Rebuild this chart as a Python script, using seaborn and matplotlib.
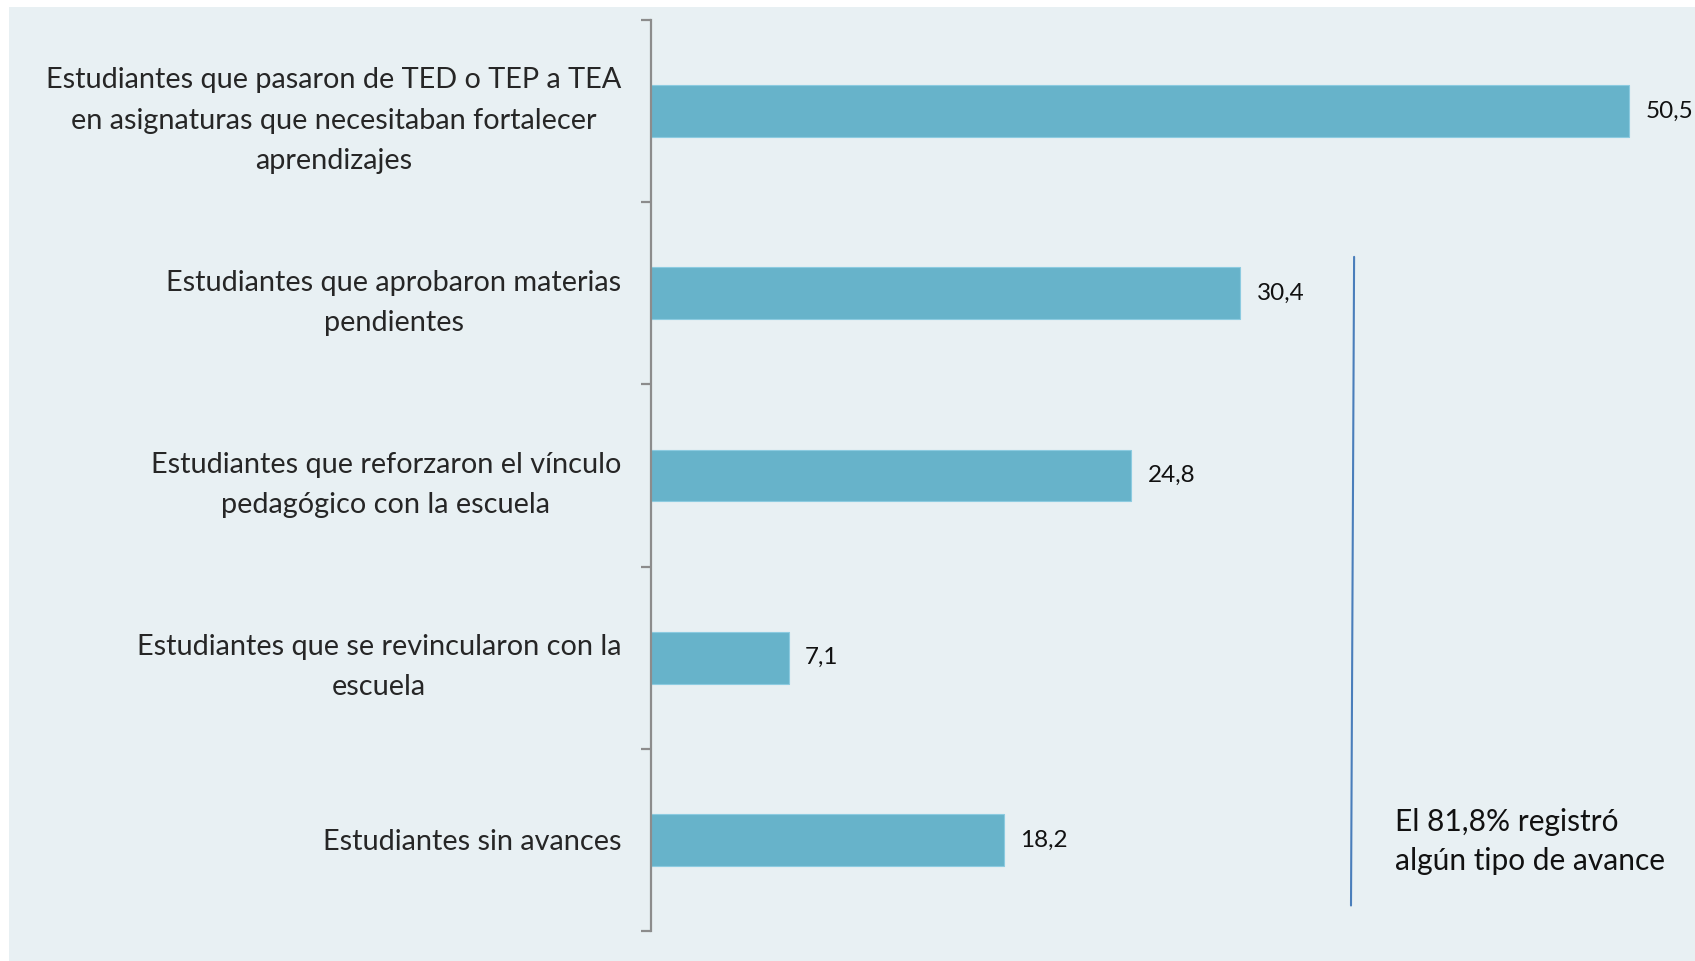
import matplotlib
matplotlib.use("Agg")
import matplotlib.pyplot as plt
import seaborn as sns
import pandas as pd

# data
categorias = [
    "Estudiantes que pasaron de TED o TEP a TEA\nen asignaturas que necesitaban fortalecer\naprendizajes",
    "Estudiantes que aprobaron materias\npendientes",
    "Estudiantes que reforzaron el vínculo\npedagógico con la escuela",
    "Estudiantes que se revincularon con la\nescuela",
    "Estudiantes sin avances",
]
porcentajes = [50.5, 30.4, 24.8, 7.1, 18.2]
nota = "El 81,8% registró\nalgún tipo de avance"

df = pd.DataFrame({"categoria": categorias, "valor": porcentajes})

sns.set_style("white")
plt.rcParams["font.family"] = ["Lato", "DejaVu Sans"]

fig = plt.figure(figsize=(16.95, 9.61), dpi=100)
fig.patch.set_facecolor("white")
# light panel behind the chart
fig.add_artist(plt.Rectangle((9 / 1695, 0), 1, 1 - 7 / 961, transform=fig.transFigure,
                             facecolor="#e8f0f3", edgecolor="none", zorder=-10))

ax = fig.add_axes([651 / 1695, 30 / 961, 1 - 651 / 1695, 911 / 961])
ax.set_facecolor("none")

sns.barplot(data=df, x="valor", y="categoria", orient="h", color="#67b3ca",
            width=0.285, saturation=1, edgecolor="#8ccbe0", linewidth=0.8, ax=ax)

ax.set_xlim(0, 53.9)
ax.set_ylim(len(categorias) - 0.5, -0.5)
ax.set_xlabel("")
ax.set_ylabel("")
ax.set_xticks([])

for s in ["top", "right", "bottom"]:
    ax.spines[s].set_visible(False)
ax.spines["left"].set_color("#8c8c8c")
ax.spines["left"].set_linewidth(1.6)

ax.set_yticks(range(len(categorias)))
ax.set_yticklabels(categorias, fontsize=20.8, linespacing=1.68, multialignment="center")
ax.tick_params(axis="y", which="major", left=False, length=0, pad=21.5)
ax.set_yticks([i - 0.5 for i in range(len(categorias) + 1)], minor=True)
ax.tick_params(axis="y", which="minor", left=True, length=7.5, width=1.6, color="#8c8c8c")

for container in ax.containers:
    ax.bar_label(container, labels=[f"{v:.1f}".replace(".", ",") for v in porcentajes],
                 padding=12, fontsize=17.5, color="#111111")

# bracket line and note
ax.plot([36.3, 36.14], [0.80, 4.36], color="#4a7ebb", linewidth=1.5, clip_on=False)
ax.text(38.4, 4.01, nota, fontsize=21.5, linespacing=1.5, va="center", ha="left",
        color="#111111")

fig.savefig("out.png", dpi=100, facecolor=fig.get_facecolor())
